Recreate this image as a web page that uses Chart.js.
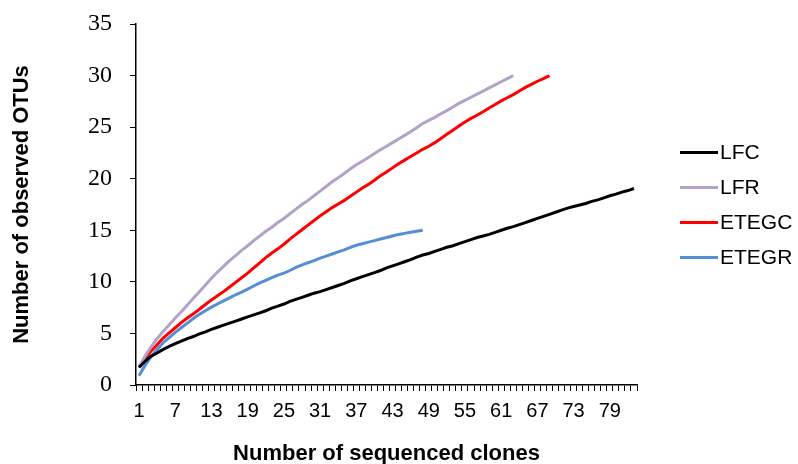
<!DOCTYPE html>
<html lang="en">
<head>
  <meta charset="UTF-8" />
  <title>Rarefaction curves</title>
  <script src="https://cdn.jsdelivr.net/npm/chart.js"></script>
  <style>
    body, html {
      margin: 0;
      padding: 0;
      background: #fff;
    }
    #wrap {
      width: 798px;
      height: 464px;
    }
  </style>
</head>
<body>
  <div id="wrap"><canvas id="rareChart" width="798" height="464"></canvas></div>

  <script>
    // Number of sequenced clones (categories)
    const clones = Array.from({ length: 83 }, (_, i) => String(i + 1));

    const seriesNames = ['LFC', 'LFR', 'ETEGC', 'ETEGR'];
    const seriesColors = ['#000000', '#b3a2c7', '#ff0000', '#558ed5'];

    // observed OTUs
    const lfc = [
      1.7, 2.3, 2.8, 3.1, 3.45, 3.75, 4.0, 4.25, 4.5, 4.7,
      4.95, 5.15, 5.4, 5.6, 5.8, 6.0, 6.2, 6.4, 6.6, 6.8,
      7.0, 7.2, 7.45, 7.65, 7.85, 8.1, 8.3, 8.5, 8.7, 8.9,
      9.05, 9.25, 9.45, 9.65, 9.85, 10.1, 10.3, 10.5, 10.7, 10.9,
      11.1, 11.35, 11.55, 11.75, 11.95, 12.15, 12.4, 12.6, 12.75, 12.95,
      13.15, 13.35, 13.5, 13.7, 13.9, 14.1, 14.3, 14.45, 14.6, 14.8,
      15.0, 15.2, 15.35, 15.55, 15.75, 15.95, 16.15, 16.35, 16.55, 16.75,
      16.95, 17.15, 17.3, 17.45, 17.6, 17.8, 17.95, 18.15, 18.35, 18.5,
      18.7, 18.85, 19.05
    ];
    const lfr = [
      1.7, 2.8, 3.7, 4.5, 5.2, 5.85, 6.5, 7.1, 7.75, 8.4,
      9.05, 9.7, 10.35, 10.95, 11.5, 12.05, 12.55, 13.05, 13.5, 14.0,
      14.45, 14.9, 15.3, 15.75, 16.15, 16.6, 17.05, 17.5, 17.9, 18.35,
      18.8, 19.25, 19.7, 20.1, 20.5, 20.95, 21.35, 21.7, 22.05, 22.45,
      22.8, 23.15, 23.5, 23.85, 24.2, 24.55, 24.95, 25.35, 25.65, 25.95,
      26.3, 26.6, 26.95, 27.3, 27.6, 27.9, 28.2, 28.5, 28.8, 29.1,
      29.4, 29.7, 30.0
    ];
    const etegc = [
      1.75, 2.6, 3.3, 3.9, 4.55, 5.05, 5.55, 6.05, 6.5, 6.9,
      7.35, 7.8, 8.25, 8.65, 9.05, 9.5, 9.95, 10.4, 10.85, 11.35,
      11.85, 12.35, 12.8, 13.2, 13.65, 14.15, 14.6, 15.05, 15.5, 15.95,
      16.4, 16.8, 17.2, 17.55, 17.9, 18.3, 18.7, 19.1, 19.45, 19.85,
      20.3, 20.65, 21.05, 21.45, 21.8, 22.15, 22.5, 22.85, 23.15, 23.5,
      23.9, 24.3, 24.7, 25.1, 25.5, 25.85, 26.15, 26.5, 26.85, 27.2,
      27.55, 27.85, 28.15, 28.5, 28.85, 29.15, 29.45, 29.7, 30.0
    ];
    const etegr = [
      0.9, 1.9, 2.75, 3.45, 4.1, 4.6, 5.1, 5.55, 6.0, 6.45,
      6.85, 7.2, 7.55, 7.85, 8.15, 8.45, 8.75, 9.0, 9.3, 9.6,
      9.9, 10.15, 10.4, 10.65, 10.85, 11.1, 11.4, 11.65, 11.85, 12.05,
      12.3, 12.5, 12.7, 12.9, 13.1, 13.35, 13.55, 13.7, 13.85, 14.0,
      14.15, 14.3, 14.45, 14.6, 14.7, 14.8, 14.9, 15.0
    ];

    const seriesValues = [lfc, lfr, etegc, etegr];

    // legend drawn by hand so it sits where the original one does
    const sideLegend = {
      id: 'sideLegend',
      afterDraw(chart) {
        const ctx = chart.ctx;
        ctx.save();
        chart.data.datasets.forEach((ds, i) => {
          const y = 152.5 + i * 35;
          ctx.strokeStyle = ds.borderColor;
          ctx.lineWidth = 3;
          ctx.beginPath();
          ctx.moveTo(680, y);
          ctx.lineTo(718, y);
          ctx.stroke();
          ctx.fillStyle = '#000';
          ctx.font = '21px "Liberation Sans", Arial, sans-serif';
          ctx.textBaseline = 'middle';
          ctx.textAlign = 'left';
          ctx.fillText(ds.label, 720, y + 1);
        });
        ctx.restore();
      }
    };

    new Chart(document.getElementById('rareChart'), {
      type: 'line',
      data: {
        labels: clones,
        datasets: seriesNames.map((name, i) => ({
          label: name,
          data: seriesValues[i],
          borderColor: seriesColors[i],
          backgroundColor: seriesColors[i],
          borderWidth: 3,
          pointRadius: 0,
          fill: false,
          tension: 0
        }))
      },
      options: {
        responsive: false,
        animation: false,
        layout: {
          padding: { top: 24, right: 161, left: 0, bottom: 0 }
        },
        plugins: {
          legend: { display: false },
          tooltip: { enabled: false }
        },
        scales: {
          x: {
            offset: true,
            afterFit(axis) { axis.height = 79; },
            grid: {
              drawOnChartArea: false,
              offset: true,
              color: '#000',
              tickLength: 6,
              tickWidth: 1
            },
            border: { color: '#000', width: 1.5 },
            ticks: {
              autoSkip: false,
              maxRotation: 0,
              padding: 8,
              color: '#000',
              font: { family: '"Liberation Sans", Arial, sans-serif', size: 20 },
              callback: (val, idx) => (idx % 6 === 0 ? clones[idx] : '')
            },
            title: {
              display: true,
              text: 'Number of sequenced clones',
              color: '#000',
              padding: { top: 0, bottom: -3 },
              font: { family: '"Liberation Sans", Arial, sans-serif', size: 22, weight: 'bold' }
            }
          },
          y: {
            min: 0,
            max: 35,
            afterFit(axis) {
              axis.width = 136;
              axis.paddingTop = 0;
            },
            grid: {
              drawOnChartArea: false,
              color: '#000',
              tickLength: 6
            },
            border: { color: '#000', width: 1.5 },
            ticks: {
              stepSize: 5,
              padding: 18,
              color: '#000',
              font: { family: '"Liberation Serif", "Times New Roman", serif', size: 24 }
            },
            title: {
              display: true,
              text: 'Number of observed OTUs',
              color: '#000',
              padding: { top: 9, bottom: 0 },
              font: { family: '"Liberation Sans", Arial, sans-serif', size: 22, weight: 'bold' }
            }
          }
        }
      },
      plugins: [sideLegend]
    });
  </script>
</body>
</html>
